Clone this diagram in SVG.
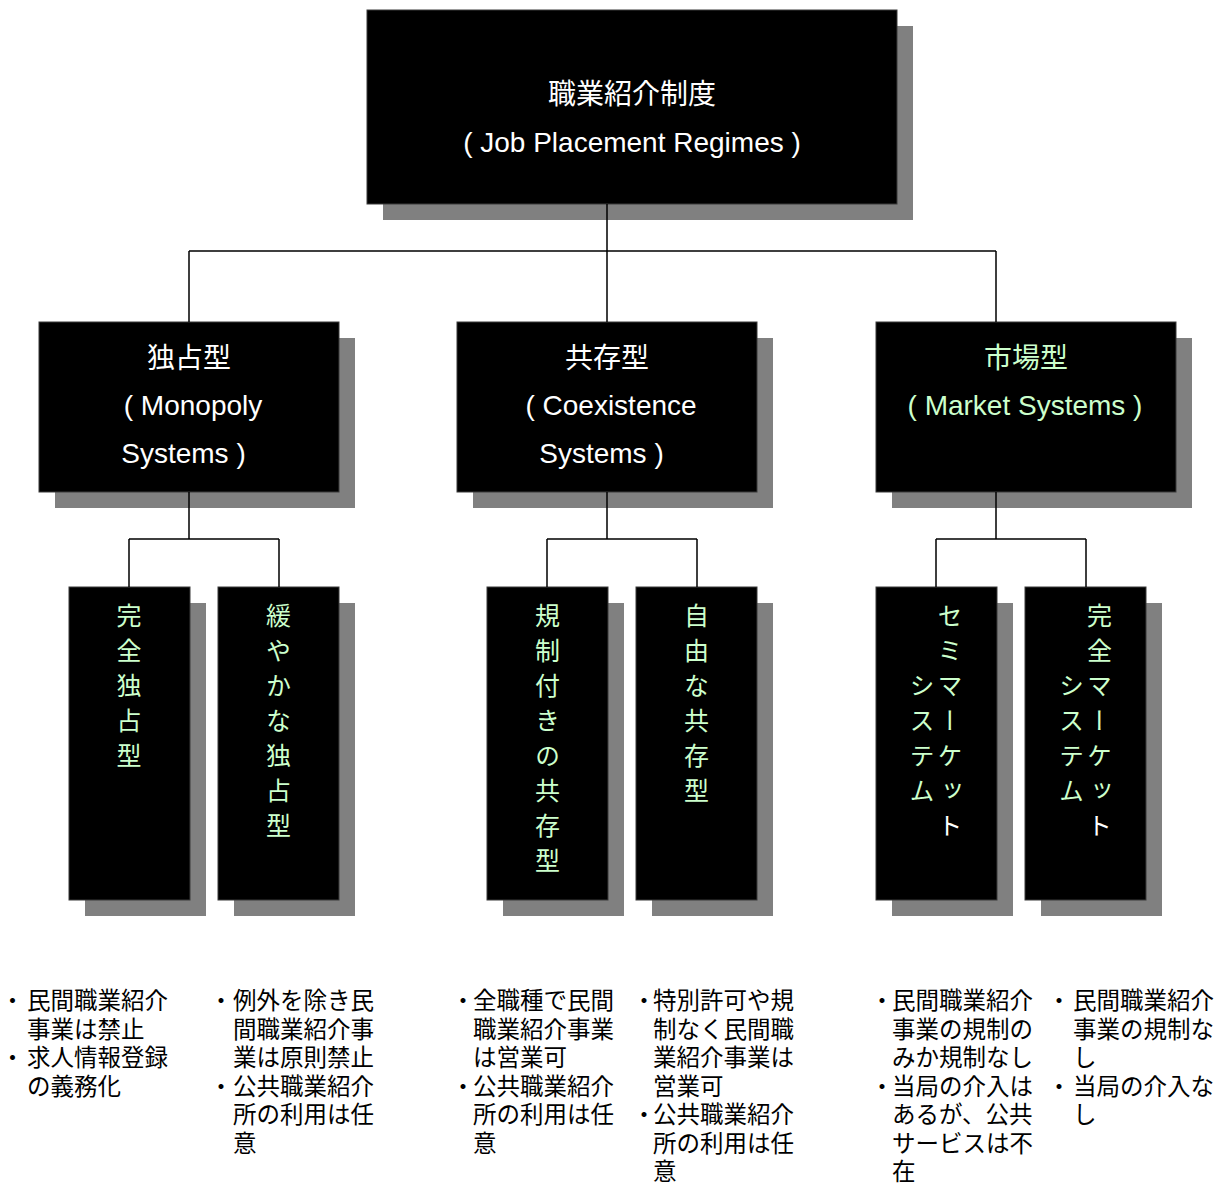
<svg xmlns="http://www.w3.org/2000/svg" width="1221" height="1195" viewBox="0 0 1221 1195">
<style>
  .shadow { fill: #808080; }
  .box { fill: #000000; stroke: #3a3a3a; stroke-width: 1; }
  .conn { fill: none; stroke: #000000; stroke-width: 1.5; }
  .t { font-family: 'Liberation Sans', 'Noto Sans CJK JP', sans-serif; font-size: 28px; text-anchor: middle; }
  .w { fill: #FFFFFF; }
  .g { fill: #CCFFCC; }
  .v { font-family: 'Noto Sans CJK JP', sans-serif; font-size: 25px; writing-mode: vertical-rl; letter-spacing: 10px; fill: #CCFFCC; }
  .n { font-family: 'Noto Sans CJK JP', sans-serif; font-size: 23.5px; fill: #000000; }
  .b { text-anchor: middle; }
</style>
<rect width="1221" height="1195" fill="#FFFFFF"/>

<g id="root">
  <rect class="shadow" x="383" y="26" width="530" height="194"/>
  <rect class="box" x="367" y="10" width="530" height="194"/>
  <text class="t w"><tspan x="632" y="104">職業紹介制度</tspan><tspan x="632" y="152">( Job Placement Regimes )</tspan></text>
</g>

<g id="monopoly">
  <rect class="shadow" x="55" y="338" width="300" height="170"/>
  <rect class="box" x="39" y="322" width="300" height="170"/>
  <text class="t w"><tspan x="189" y="368">独占型</tspan><tspan x="193" y="415">( Monopoly</tspan><tspan x="183.5" y="463">Systems )</tspan></text>
</g>

<g id="coexistence">
  <rect class="shadow" x="473" y="338" width="300" height="170"/>
  <rect class="box" x="457" y="322" width="300" height="170"/>
  <text class="t w"><tspan x="607" y="368">共存型</tspan><tspan x="611" y="415">( Coexistence</tspan><tspan x="601.5" y="463">Systems )</tspan></text>
</g>

<g id="market">
  <rect class="shadow" x="892" y="338" width="300" height="170"/>
  <rect class="box" x="876" y="322" width="300" height="170"/>
  <text class="t g"><tspan x="1026" y="368">市場型</tspan><tspan x="1025" y="415">( Market Systems )</tspan></text>
</g>

<g id="full-monopoly">
  <rect class="shadow" x="85" y="603" width="121" height="313"/>
  <rect class="box" x="69" y="587" width="121" height="313"/>
  <text class="v" x="129" y="603">完全独占型</text>
</g>

<g id="loose-monopoly">
  <rect class="shadow" x="234" y="603" width="121" height="313"/>
  <rect class="box" x="218" y="587" width="121" height="313"/>
  <text class="v" x="278.5" y="603">緩やかな独占型</text>
</g>

<g id="regulated-coexistence">
  <rect class="shadow" x="503" y="603" width="121" height="313"/>
  <rect class="box" x="487" y="587" width="121" height="313"/>
  <text class="v" x="547.5" y="603">規制付きの共存型</text>
</g>

<g id="free-coexistence">
  <rect class="shadow" x="652" y="603" width="121" height="313"/>
  <rect class="box" x="636" y="587" width="121" height="313"/>
  <text class="v" x="696.5" y="603">自由な共存型</text>
</g>

<g id="semi-market">
  <rect class="shadow" x="892" y="603" width="121" height="313"/>
  <rect class="box" x="876" y="587" width="121" height="313"/>
  <text class="v" x="950" y="603">セミマーケッ<tspan fill="#FFFFFF">ト</tspan></text>
  <text class="v" x="922" y="673">システム</text>
</g>

<g id="full-market">
  <rect class="shadow" x="1041" y="603" width="121" height="313"/>
  <rect class="box" x="1025" y="587" width="121" height="313"/>
  <text class="v" x="1099.5" y="603">完全マーケッ<tspan fill="#FFFFFF">ト</tspan></text>
  <text class="v" x="1071.5" y="673">システム</text>
</g>

<g id="connectors">
  <path class="conn" d="M607,204 V251 M189,251 H996 M189,251 V322 M607,251 V322 M996,251 V322"/>
  <path class="conn" d="M189,492 V539 M129,539 H279 M129,539 V587 M279,539 V587"/>
  <path class="conn" d="M607,492 V539 M547,539 H697 M547,539 V587 M697,539 V587"/>
  <path class="conn" d="M996,492 V539 M936,539 H1086 M936,539 V587 M1086,539 V587"/>
</g>

<g id="notes">
  <text class="n"><tspan class="b" x="12.5" y="1009">・</tspan><tspan x="27" y="1009">民間職業紹介</tspan><tspan x="27" y="1037.5">事業は禁止</tspan><tspan class="b" x="12.5" y="1066">・</tspan><tspan x="27" y="1066">求人情報登録</tspan><tspan x="27" y="1094.5">の義務化</tspan></text>

  <text class="n"><tspan class="b" x="221" y="1009">・</tspan><tspan x="233" y="1009">例外を除き民</tspan><tspan x="233" y="1037.5">間職業紹介事</tspan><tspan x="233" y="1066">業は原則禁止</tspan><tspan class="b" x="221" y="1094.5">・</tspan><tspan x="233" y="1094.5">公共職業紹介</tspan><tspan x="233" y="1123">所の利用は任</tspan><tspan x="233" y="1151.5">意</tspan></text>

  <text class="n"><tspan class="b" x="463" y="1009">・</tspan><tspan x="473" y="1009">全職種で民間</tspan><tspan x="473" y="1037.5">職業紹介事業</tspan><tspan x="473" y="1066">は営業可</tspan><tspan class="b" x="463" y="1094.5">・</tspan><tspan x="473" y="1094.5">公共職業紹介</tspan><tspan x="473" y="1123">所の利用は任</tspan><tspan x="473" y="1151.5">意</tspan></text>

  <text class="n"><tspan class="b" x="644" y="1009">・</tspan><tspan x="653" y="1009">特別許可や規</tspan><tspan x="653" y="1037.5">制なく民間職</tspan><tspan x="653" y="1066">業紹介事業は</tspan><tspan x="653" y="1094.5">営業可</tspan><tspan class="b" x="644" y="1123">・</tspan><tspan x="653" y="1123">公共職業紹介</tspan><tspan x="653" y="1151.5">所の利用は任</tspan><tspan x="653" y="1180">意</tspan></text>

  <text class="n"><tspan class="b" x="882" y="1009">・</tspan><tspan x="892" y="1009">民間職業紹介</tspan><tspan x="892" y="1037.5">事業の規制の</tspan><tspan x="892" y="1066">みか規制なし</tspan><tspan class="b" x="882" y="1094.5">・</tspan><tspan x="892" y="1094.5">当局の介入は</tspan><tspan x="892" y="1123">あるが、公共</tspan><tspan x="892" y="1151.5">サービスは不</tspan><tspan x="892" y="1180">在</tspan></text>

  <text class="n"><tspan class="b" x="1059" y="1009">・</tspan><tspan x="1073" y="1009">民間職業紹介</tspan><tspan x="1073" y="1037.5">事業の規制な</tspan><tspan x="1073" y="1066">し</tspan><tspan class="b" x="1059" y="1094.5">・</tspan><tspan x="1073" y="1094.5">当局の介入な</tspan><tspan x="1073" y="1123">し</tspan></text>
</g>
</svg>
